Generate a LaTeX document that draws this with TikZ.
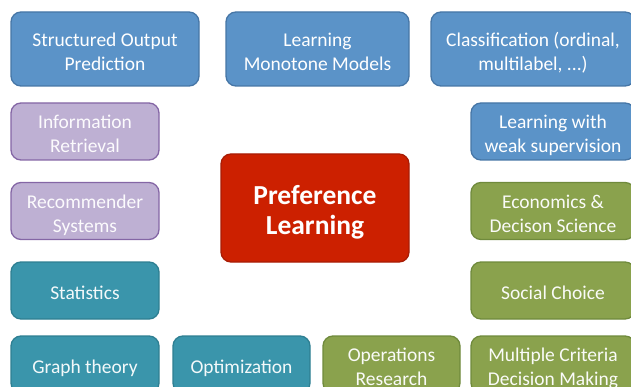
\documentclass[tikz,border=0pt]{standalone}
\usepackage{fontspec}
\setmainfont{Carlito}
\usepackage{tikz}

\definecolor{boxblue}{HTML}{5B93C8}
\definecolor{boxbluedark}{HTML}{4676A6}
\definecolor{boxpurple}{HTML}{BEB0D3}
\definecolor{boxpurpledark}{HTML}{8466A5}
\definecolor{boxteal}{HTML}{3A95AB}
\definecolor{boxtealdark}{HTML}{2E7F92}
\definecolor{boxgreen}{HTML}{8AA24D}
\definecolor{boxgreendark}{HTML}{6F8A3C}
\definecolor{boxred}{HTML}{CC2000}
\definecolor{boxreddark}{HTML}{A81C05}

\begin{document}
\begin{tikzpicture}
[x=1pt,y=-1pt,
topic/.style={rectangle,rounded corners=10pt,line width=1.3pt,align=center,
  text=white,inner sep=0pt,font=\fontsize{19.5}{24}\selectfont},
one/.style={text height=21.5pt,text depth=4.5pt},
two/.style={text height=47pt,text depth=4.5pt},
blue/.style={topic,fill=boxblue,draw=boxbluedark},
purple/.style={topic,fill=boxpurple,draw=boxpurpledark,text=white!95!boxpurple},
teal/.style={topic,fill=boxteal,draw=boxtealdark,text=white!94!boxteal},
green/.style={topic,fill=boxgreen,draw=boxgreendark,text=white!96!boxgreen},
core/.style={topic,fill=boxred,draw=boxreddark,
  font=\fontsize{27.5}{30}\selectfont\bfseries,
  text height=59pt,text depth=6pt}]
\useasboundingbox (0,0) rectangle (631,387);
\clip (0,0) rectangle (631,387);
% top row
\node[blue,two,minimum width=188pt,minimum height=74pt] (sop) at (105,49) {Structured Output\\Prediction};
\node[blue,two,minimum width=183pt,minimum height=74pt] (lmm) at (317.5,49) {Learning\\Monotone Models};
\node[blue,two,minimum width=204pt,minimum height=74pt] (cls) at (533,49) {Classification (ordinal,\\multilabel, ...)};
% left column
\node[purple,two,minimum width=148pt,minimum height=57pt] (ir) at (85,131.5) {Information\\Retrieval};
\node[purple,two,minimum width=148pt,minimum height=57pt] (rs) at (85,211) {Recommender\\Systems};
\node[teal,one,minimum width=148pt,minimum height=57pt] (stat) at (85,290.5) {Statistics};
% right column
\node[blue,two,minimum width=164pt,minimum height=57pt] (weak) at (553,131.5) {Learning with\\weak supervision};
\node[green,two,minimum width=164pt,minimum height=57pt] (econ) at (553,211) {Economics \&\\Decison Science};
\node[green,one,minimum width=164pt,minimum height=57pt] (sc) at (553,290.5) {Social Choice};
% bottom row
\node[teal,one,minimum width=148pt,minimum height=57pt] (gt) at (85,364.5) {Graph theory};
\node[teal,one,minimum width=137pt,minimum height=57pt] (opt) at (241.5,364.5) {Optimization};
\node[green,two,minimum width=137pt,minimum height=57pt] (or) at (391.5,364.5) {Operations\\Research};
\node[green,two,minimum width=164pt,minimum height=57pt] (mcdm) at (553,364.5) {Multiple Criteria\\Decision Making};
% centre
\node[core,minimum width=188pt,minimum height=108pt] (pl) at (315,208) {Preference\\Learning};
\end{tikzpicture}
\end{document}
